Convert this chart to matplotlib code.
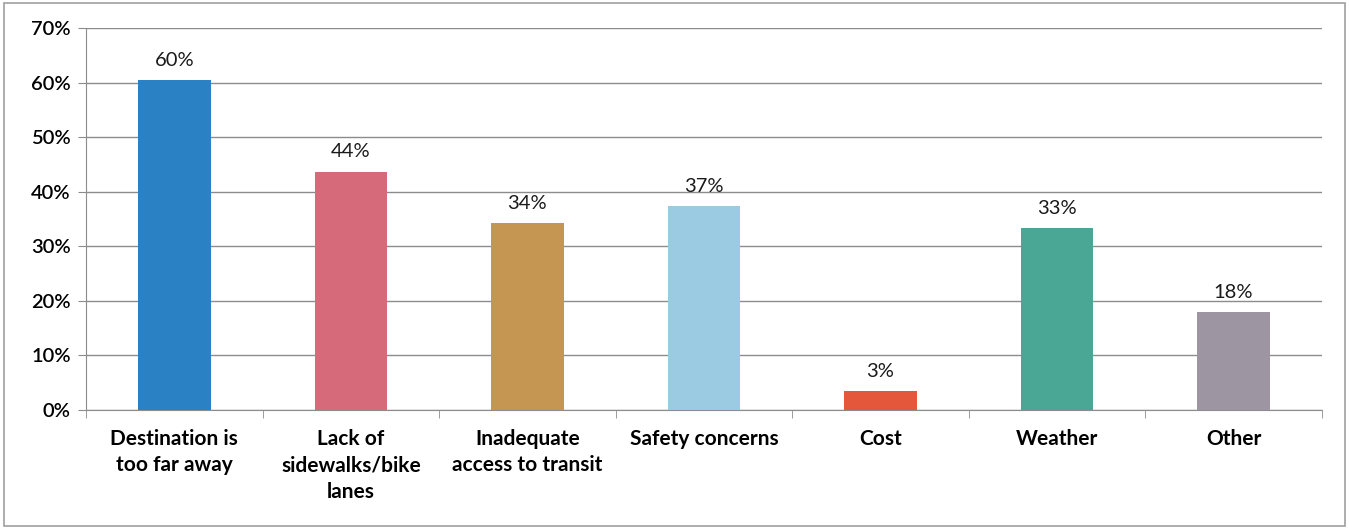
import matplotlib.pyplot as plt
import matplotlib
from matplotlib.patches import Rectangle
from matplotlib.ticker import FixedLocator, PercentFormatter

matplotlib.rcParams['font.family'] = ['Lato', 'DejaVu Sans']

# Data
categories = ['Destination is\ntoo far away', 'Lack of\nsidewalks/bike\nlanes',
              'Inadequate\naccess to transit', 'Safety concerns', 'Cost',
              'Weather', 'Other']
values = [60.4, 43.7, 34.2, 37.4, 3.4, 33.3, 18.0]
colors = ['#2A82C4', '#D76A7A', '#C49652', '#9BCAE3', '#E5573A', '#4AA695', '#9E95A3']

fig = plt.figure(figsize=(13.49, 5.29), dpi=100)
ax = fig.add_axes([0.0638, 0.225, 0.916, 0.722])

# outer frame like the original export
fig.patches.append(Rectangle((0.003, 0.005), 0.994, 0.99, transform=fig.transFigure,
                             fill=False, edgecolor='#A0A0A0', linewidth=1.2))

x = range(len(categories))
bars = ax.bar(x, values, width=0.41, color=colors, zorder=3)
for b, v in zip(bars, values):
    ax.annotate(f'{v:.0f}%', (b.get_x() + b.get_width() / 2, v),
                xytext=(0, 8), textcoords='offset points',
                ha='center', va='bottom', fontsize=14.5, color='#1a1a1a')

ax.set_xlim(-0.5, len(categories) - 0.5)
ax.set_ylim(0, 70)
ax.set_yticks(range(0, 71, 10))
ax.yaxis.set_major_formatter(PercentFormatter(decimals=0))
ax.yaxis.grid(True, color='#8C8C8C', linewidth=1, zorder=0)

ax.set_xticks(list(x))
ax.set_xticklabels(categories, fontsize=15, fontweight='bold', linespacing=1.38)
ax.xaxis.set_minor_locator(FixedLocator([i - 0.5 for i in range(len(categories) + 1)]))
ax.tick_params(axis='x', which='major', length=0, pad=14)
ax.tick_params(axis='x', which='minor', length=6, color='#8C8C8C')
ax.tick_params(axis='y', length=6, color='#8C8C8C', labelsize=14.5, pad=5)
for t in ax.get_yticklabels():
    t.set_fontweight('semibold')

for s in ['top', 'right']:
    ax.spines[s].set_visible(False)
for s in ['left', 'bottom']:
    ax.spines[s].set_color('#8C8C8C')

plt.savefig('out.png', dpi=100)
